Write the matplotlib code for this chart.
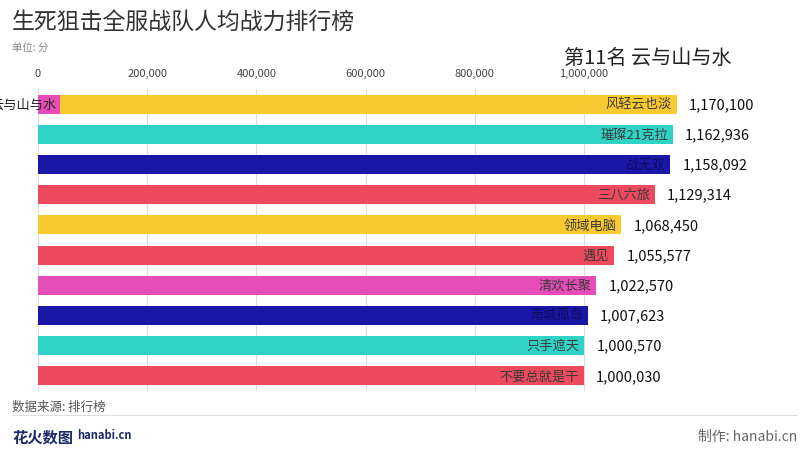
import matplotlib.pyplot as plt

plt.rcParams['font.family'] = ['Noto Sans CJK SC', 'DejaVu Sans']

YELLOW = "#F9C932"
CYAN   = "#2ED3C6"
BLUE   = "#1A17A6"
RED    = "#EE4A5D"
PINK   = "#E64DB9"

names  = ["风轻云也淡", "璀璨21克拉", "战无双", "三八六旅", "领域电脑",
          "遇见", "清欢长聚", "南城孤岛", "只手遮天", "不要总就是干"]
values = [1170100, 1162936, 1158092, 1129314, 1068450,
          1055577, 1022570, 1007623, 1000570, 1000030]
colors = [YELLOW, CYAN, BLUE, RED, YELLOW, RED, PINK, BLUE, CYAN, RED]

# entering bar (11th place) sliding in at the top
new_name  = "云与山与水"
new_value = 40000
new_color = PINK

ticks = [0, 200000, 400000, 600000, 800000, 1000000]

W, H = 809, 456
fig = plt.figure(figsize=(W / 100, H / 100), dpi=100)
ax = fig.add_axes([38 / W, 1 - 392 / H, 752 / W, 302 / H])

ypos = list(range(len(names)))
ax.barh(ypos, values, color=colors, height=0.63, zorder=2)
for y, v, n, c in zip(ypos, values, names, colors):
    tc = "#0c0c5e" if c == BLUE else "#3a3a3a"
    ax.text(v - 9000, y, n, ha="right", va="center", fontsize=9.5, color=tc, zorder=3)
    ax.text(v + 22000, y, f"{v:,}", ha="left", va="center", fontsize=10.5, color="#111111", zorder=3)

ax.barh(0, new_value, color=new_color, height=0.63, zorder=3)
ax.text(33000, 0, new_name, ha="right", va="center", fontsize=9.5, color="#222222",
        clip_on=False, zorder=4)

ax.set_xlim(0, 752 / 546 * 1000000)
ax.set_ylim(9.5, -0.5)
ax.set_xticks(ticks)
ax.set_xticklabels([f"{t:,}" for t in ticks])
ax.xaxis.tick_top()
ax.tick_params(axis="x", length=0, labelsize=8, colors="#444444", pad=8)
ax.set_yticks([])
for s in ax.spines.values():
    s.set_visible(False)
ax.grid(axis="x", color="#dddddd", lw=0.8, zorder=0)

fig.text(12 / W, 1 - 22 / H, "生死狙击全服战队人均战力排行榜", fontsize=16.5, color="#333333", va="center")
fig.text(12 / W, 1 - 48 / H, "单位: 分", fontsize=7.5, color="#888888", va="center")
fig.text(648 / W, 1 - 58 / H, "第11名 云与山与水", fontsize=14.5, color="#222222", va="center", ha="center")

fig.text(12 / W, 1 - 407 / H, "数据来源: 排行榜", fontsize=9, color="#555555", va="center")
fig.add_artist(plt.Line2D([12 / W, 797 / W], [1 - 416 / H, 1 - 416 / H], color="#dddddd", lw=0.8))
fig.text(12 / W, 1 - 438 / H, "花火数图", fontsize=11, color="#1b2a6b", va="center", fontweight="bold")
fig.text(77 / W, 1 - 436 / H, "hanabi.cn", fontsize=8, color="#1b2a6b", va="center", fontweight="bold")
fig.text(797 / W, 1 - 437 / H, "制作: hanabi.cn", fontsize=10, color="#666666", va="center", ha="right")

fig.savefig("out.png", dpi=100, facecolor="white")
